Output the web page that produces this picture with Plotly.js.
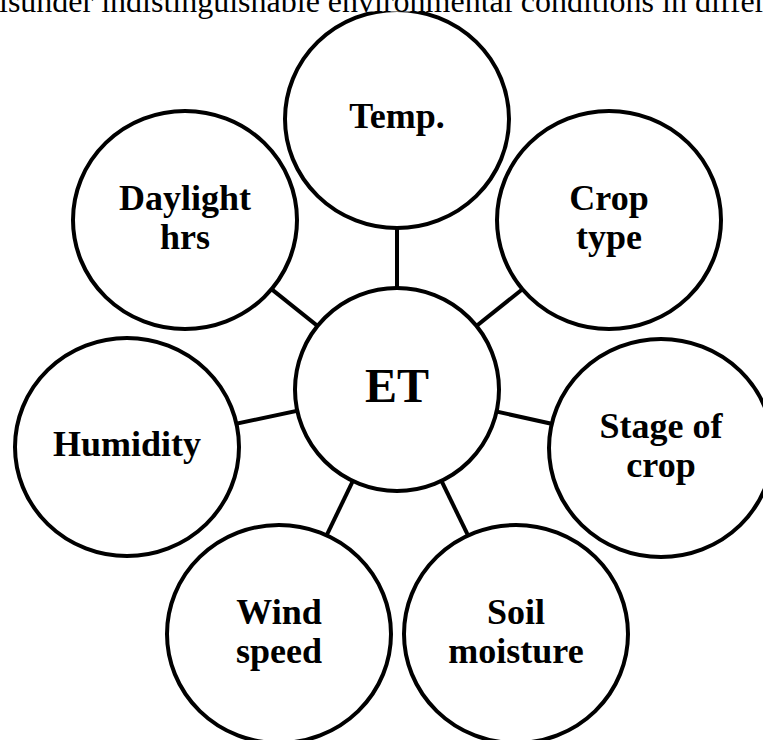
<!DOCTYPE html>
<html>
<head>
<meta charset="utf-8">
<script src="https://cdn.plot.ly/plotly-3.0.1.min.js"></script>
<style>
html,body{margin:0;padding:0;background:#fff;}
#chart{width:763px;height:740px;}
</style>
</head>
<body>
<div id="chart"></div>
<script>
// ---- data ----
const nodeNames  = ["ET", "Temp.", "Crop type", "Stage of crop", "Soil moisture", "Wind speed", "Humidity", "Daylight hrs"];
const labelLines = [["ET"], ["Temp."], ["Crop", "type"], ["Stage of", "crop"], ["Soil", "moisture"], ["Wind", "speed"], ["Humidity"], ["Daylight", "hrs"]];
const nodeX      = [397, 397, 609, 661, 516, 279, 127, 185];
const nodeY      = [389.5, 119, 220, 448, 634, 634, 447, 220];
const hubIndex   = 0;
const headerText = "isunder indistinguishable environmental conditions in differ";

// ---- styles ----
const W = 763, H = 740;
const FONT = "Liberation Serif, Times New Roman, serif";
const strokeW = 4;
const outerRx = 112, outerRy = 109;
const hubRx = 102, hubRy = 101.5;
const lineGap = 39;

const shapes = [];
// connectors (drawn first, under circles)
for (let i = 0; i < nodeNames.length; i++) {
  if (i === hubIndex) continue;
  shapes.push({
    type: "line", xref: "x", yref: "y", layer: "below",
    x0: nodeX[hubIndex], y0: nodeY[hubIndex], x1: nodeX[i], y1: nodeY[i],
    line: {color: "#000", width: strokeW}
  });
}
// circles
for (let i = 0; i < nodeNames.length; i++) {
  const rx = i === hubIndex ? hubRx : outerRx;
  const ry = i === hubIndex ? hubRy : outerRy;
  shapes.push({
    type: "circle", xref: "x", yref: "y", layer: "below",
    x0: nodeX[i] - rx, x1: nodeX[i] + rx, y0: nodeY[i] - ry, y1: nodeY[i] + ry,
    fillcolor: "#fff", line: {color: "#000", width: strokeW}
  });
}
// header band (clips the top of the figure)
shapes.push({
  type: "rect", xref: "x", yref: "y", layer: "below",
  x0: -10, x1: W + 10, y0: -10, y1: 11.5,
  fillcolor: "#fff", line: {width: 0}
});

// label text points
const tx = [], ty = [], tt = [], ts = [];
for (let i = 0; i < nodeNames.length; i++) {
  const lines = labelLines[i];
  const n = lines.length;
  for (let j = 0; j < n; j++) {
    tx.push(nodeX[i]);
    ty.push(nodeY[i] + (j - (n - 1) / 2) * lineGap);
    tt.push("<b>" + lines[j] + "</b>");
    ts.push(i === hubIndex ? 48 : 36);
  }
}

const traces = [
  {
    type: "scatter", mode: "text", x: tx, y: ty, text: tt,
    textposition: "middle center", cliponaxis: false, hoverinfo: "skip",
    textfont: {family: FONT, size: ts, color: "#000"}
  }
];

const layout = {
  width: W, height: H,
  margin: {l: 0, r: 0, t: 0, b: 0, pad: 0},
  paper_bgcolor: "#fff", plot_bgcolor: "#fff",
  showlegend: false,
  xaxis: {range: [0, W], visible: false, fixedrange: true},
  yaxis: {range: [H, 0], visible: false, fixedrange: true},
  shapes: shapes,
  annotations: [{
    xref: "paper", yref: "paper", x: 0, y: 1,
    xanchor: "left", yanchor: "middle", xshift: -2, yshift: -1,
    text: headerText, showarrow: false, borderpad: 0,
    font: {family: FONT, size: 32, color: "#000"}
  }]
};

Plotly.newPlot("chart", traces, layout, {displayModeBar: false, staticPlot: true});
</script>
</body>
</html>
